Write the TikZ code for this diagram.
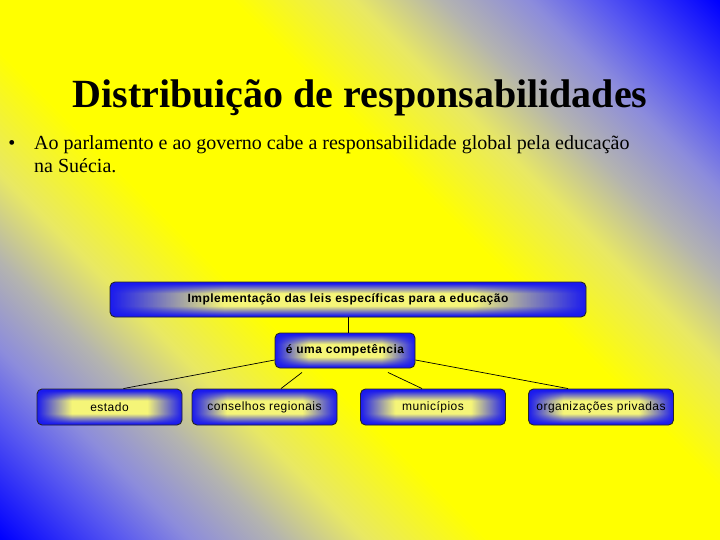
\documentclass[tikz,border=0pt]{standalone}
\usepackage{fontspec}
\setmainfont{Liberation Serif}
\newfontfamily\boxfont[LetterSpace=4]{Liberation Sans}
\usetikzlibrary{fadings}

\definecolor{boxblue}{RGB}{25,25,240}
\definecolor{boxglow}{RGB}{245,245,120}
% background: blue corners, yellow diagonal band
\pgfdeclarehorizontalshading{slidebg}{100bp}{color(0bp)=(blue); color(14.6bp)=(blue);
  color(21.4bp)=(rgb,255:red,90;green,90;blue,240); color(25.2bp)=(rgb,255:red,140;green,140;blue,220);
  color(30.2bp)=(rgb,255:red,180;green,180;blue,175); color(35.1bp)=(rgb,255:red,232;green,232;blue,100);
  color(42bp)=(yellow); color(58bp)=(yellow);
  color(64.9bp)=(rgb,255:red,232;green,232;blue,100); color(69.8bp)=(rgb,255:red,180;green,180;blue,175);
  color(74.8bp)=(rgb,255:red,140;green,140;blue,220); color(78.6bp)=(rgb,255:red,90;green,90;blue,240);
  color(85.4bp)=(blue); color(100bp)=(blue)}
% box filling (visible part of a shading: 25bp to 75bp)
\pgfdeclareverticalshading{boxvert}{100bp}{color(0bp)=(boxblue); color(27bp)=(boxblue); color(41bp)=(boxglow); color(59bp)=(boxglow); color(73bp)=(boxblue); color(100bp)=(boxblue)}
\pgfdeclarehorizontalshading{boxfadeshade}{100bp}{color(0bp)=(black); color(25bp)=(black); color(37bp)=(white); color(63bp)=(white); color(75bp)=(black); color(100bp)=(black)}
\pgfdeclarefading{boxfade}{\pgfuseshading{boxfadeshade}}

\tikzset{
  glowbox/.style={draw=black!85, line width=0.9pt, rounded corners=5pt,
    fill=boxblue, minimum height=35pt, inner sep=2pt,
    path picture={\shade[shading=boxvert, path fading=boxfade]
      (path picture bounding box.south west) rectangle (path picture bounding box.north east);}},
  topbox/.style={glowbox, font=\boxfont\fontsize{12}{14}\selectfont\bfseries},
  leafbox/.style={glowbox, minimum width=145pt, minimum height=36pt, font=\boxfont\fontsize{12}{14}\selectfont},
  link/.style={draw=black, line width=0.7pt}
}

\begin{document}
\begin{tikzpicture}[x=1pt,y=-1pt]
\shade[shading=slidebg, shading angle=45] (0,0) rectangle (720,540);
\useasboundingbox (0,0) rectangle (720,540);

\node[anchor=base] (title) at (360,108) {\fontsize{40}{48}\selectfont\bfseries Distribuição de responsabilidades};
\node[anchor=base, inner sep=0pt, font=\fontsize{20}{24}\selectfont] (dot) at (12,150) {•};
\node[anchor=base west, align=left, inner sep=0pt, font=\fontsize{20}{22.5}\selectfont] (goal) at (34,172.5)
  {Ao parlamento e ao governo cabe a responsabilidade global pela educação\\na Suécia.};

\node[topbox, minimum width=476pt] (task) at (348,299.5) {Implementação das leis específicas para a educação};
\node[topbox, minimum width=140pt] (mid) at (345,350.5) {é uma competência};

\node[leafbox] (estado) at (109.5,407) {estado};
\node[leafbox] (conselhos) at (264.5,407) {conselhos regionais};
\node[leafbox] (municipios) at (433,407) {municípios};
\node[leafbox] (org) at (601,407) {organizações privadas};

\draw[link] (task.south) -- (task.south |- mid.north);
\draw[link] ([yshift=-9.5pt]mid.west) -- ([xshift=14pt]estado.north);
\draw[link] ([shift={(-43pt,-4pt)}]mid.south) -- ([xshift=16.5pt]conselhos.north);
\draw[link] ([shift={(43pt,-4pt)}]mid.south) -- ([xshift=-11pt]municipios.north);
\draw[link] ([yshift=-9.5pt]mid.east) -- ([xshift=-33pt]org.north);
\end{tikzpicture}
\end{document}
